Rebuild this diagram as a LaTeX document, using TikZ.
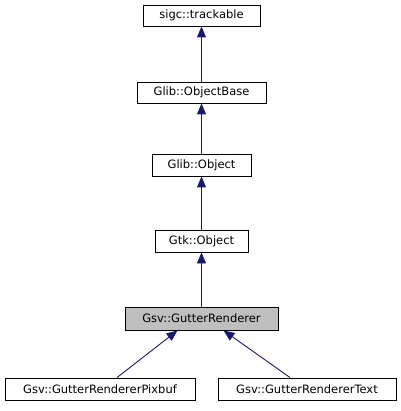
\documentclass[tikz,border=0pt]{standalone}
\usepackage{fontspec}
\setmainfont{DejaVu Sans}
\usetikzlibrary{arrows.meta}
\definecolor{edgeblue}{RGB}{25,25,112}
\definecolor{grayfill}{RGB}{191,191,191}
\tikzset{
  cls/.style={draw=black, line width=0.9pt, fill=white, inner sep=0pt, font=\fontsize{11.5}{13}\selectfont, minimum height=21pt},
  hl/.style={cls, fill=grayfill},
  inh/.style={draw=edgeblue, line width=0.9pt, -{Triangle[length=11pt,width=9pt]}, color=edgeblue}
}
\begin{document}
\begin{tikzpicture}[x=1pt,y=-1pt]
\useasboundingbox (0,0) rectangle (400,411);
\node[cls, minimum width=117pt] (trk) at (201.5,15.5) {sigc::trackable};
\node[cls, minimum width=129pt] (ob) at (201.5,92.5) {Glib::ObjectBase};
\node[cls, minimum width=99pt, minimum height=22pt] (gobj) at (201.5,165) {Glib::Object};
\node[cls, minimum width=93pt, minimum height=22pt] (gtk) at (201.5,241) {Gtk::Object};
\node[hl, minimum width=153pt, minimum height=23pt] (gr) at (201.5,318.5) {Gsv::GutterRenderer};
\node[cls, minimum width=190pt, minimum height=22pt] (pix) at (100,389) {Gsv::GutterRendererPixbuf};
\node[cls, minimum width=178pt, minimum height=22pt] (txt) at (307,389) {Gsv::GutterRendererText};
\draw[inh] (ob.north) -- (trk.south);
\draw[inh] (gobj.north) -- (ob.south);
\draw[inh] (gtk.north) -- (gobj.south);
\draw[inh] (gr.north) -- (gtk.south);
\draw[inh] ([xshift=17pt]pix.north) -- ([xshift=-24pt]gr.south);
\draw[inh] ([xshift=-17pt]txt.north) -- ([xshift=22pt]gr.south);
\end{tikzpicture}
\end{document}
